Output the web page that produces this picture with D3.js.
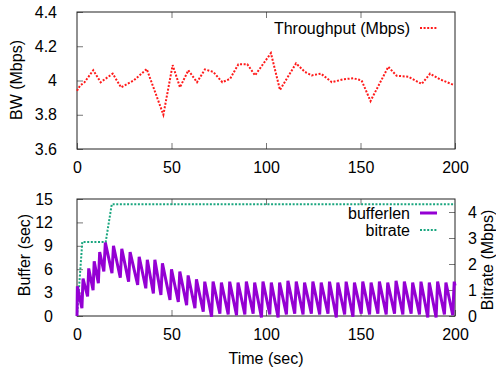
<!DOCTYPE html>
<html>
<head>
<meta charset="utf-8">
<script src="https://cdn.jsdelivr.net/npm/d3@7"></script>
<style>
  body { margin: 0; background: #fff; }
  svg text { font-family: "Liberation Sans", Arial, sans-serif; font-size: 16px; fill: #000; }
  .tick line { stroke: #777; }
  .domain { display: none; }
</style>
</head>
<body>
<svg id="chart" width="496" height="370"></svg>
<script>
// top panel: throughput samples [time (sec), Mbps]
var throughput = [[0,3.94],[1.6,3.97],[4,3.99],[8.6,4.06],[12.5,3.99],[18.9,4.04],[23.3,3.96],[30,4.0],
  [36.9,4.067],[45.7,3.80],[50.6,4.09],[54.5,3.96],[58.9,4.06],[63.5,3.99],[67.7,4.065],[72.1,4.05],
  [76.9,3.99],[81,4.01],[85.4,4.095],[90.1,4.095],[94.2,4.03],[102.6,4.16],[107.4,3.945],[115.9,4.10],
  [120.6,4.05],[124.2,4.03],[129.1,4.04],[134.8,3.99],[140.9,4.007],[146.2,4.013],[150.6,4.0],
  [155.3,3.88],[164.7,4.08],[169.1,4.028],[175.3,4.022],[182.4,3.98],[186.8,4.04],[192,4.007],[199.1,3.975]];

// bottom panel: buffer level [time, sec]
var bufferlen = [[0,0],[0.2,3.8],[2.6,1.0],[3.2,4.8],[5.6,2.5],[6.2,6.1],[8.5,3.3],[9.1,7.0],[11.3,4.2],
  [12.0,8.2],[14.2,5.7],[15.0,9.4],[18.5,5.5],[19.3,9.0],[22.9,4.9],[23.7,8.6],[27.3,4.4],[28.1,8.2],
  [32.1,4.0],[32.9,7.6],[36.4,3.55],[37.2,7.2],[40.4,2.9],[41.2,7.2],[44.4,2.7],[45.2,6.75],[49.2,2.05],
  [50.0,6.0],[53.6,1.8],[54.4,5.7],[58.0,1.4],[58.8,5.2],[62.4,1.0],[63.2,4.7],[66.8,0.55],[67.6,4.4],
  [71.2,-0.1],[72.0,4.4],[75.6,0.3],[76.4,4.3],[80.0,0.2],[80.8,4.4],[84.4,0.1],[85.2,4.3],[88.8,0.2],
  [89.6,4.4],[93.2,0.3],[94.0,4.3],[97.6,-0.2],[98.4,4.4],[102.0,0.2],[102.8,4.3],[106.4,-0.2],[107.2,4.3],
  [110.8,0.2],[111.6,4.5],[115.2,0.3],[116.0,4.4],[119.6,0.2],[120.4,4.3],[124.0,0.3],[124.8,4.4],
  [128.4,0.2],[129.2,4.3],[132.8,0.3],[133.6,4.4],[137.2,-0.2],[138.0,4.3],[141.6,0.2],[142.4,4.4],
  [146.0,-0.1],[146.8,4.3],[150.4,0.3],[151.2,4.4],[154.8,0.2],[155.6,4.3],[159.2,0.3],[160.0,4.4],
  [163.6,0.2],[164.4,4.3],[168.0,0.3],[168.8,4.5],[172.4,0.2],[173.2,4.4],[176.8,0.3],[177.6,4.3],
  [181.2,0.2],[182.0,4.4],[185.6,-0.2],[186.4,4.3],[190.0,-0.2],[190.8,4.4],[194.4,0.2],[195.2,4.3],
  [198.8,0.1],[199.6,4.4],[200,3.9]];

// bottom panel: selected bitrate [time, Mbps]
var bitrate = [[0,0],[2.8,2.85],[15.2,2.85],[18.4,4.3],[200,4.3]];

var xTicks = [0, 50, 100, 150, 200];
var bwTicks = [3.6, 3.8, 4.0, 4.2, 4.4];
var bufTicks = [0, 3, 6, 9, 12, 15];
var brTicks = [0, 1, 2, 3, 4];

var svg = d3.select("#chart");

// ---- top panel ----
var x1 = d3.scaleLinear().domain([0, 200]).range([77, 455]);
var y1 = d3.scaleLinear().domain([3.6, 4.4]).range([149, 12]);

svg.append("g").attr("transform", "translate(0,149)")
  .call(d3.axisBottom(x1).tickValues(xTicks).tickSizeInner(-6).tickSizeOuter(0).tickPadding(13));
svg.append("g").attr("transform", "translate(0,12)")
  .call(d3.axisTop(x1).tickValues(xTicks.slice(1, 4)).tickSizeInner(-6).tickSizeOuter(0).tickFormat(""));
svg.append("g").attr("transform", "translate(77,0)")
  .call(d3.axisLeft(y1).tickValues(bwTicks).tickSizeInner(-6).tickSizeOuter(0).tickPadding(20)
    .tickFormat(function(d) { return d === 4 ? "4" : d3.format(".1f")(d); }));

svg.append("rect").attr("x", 77).attr("y", 12).attr("width", 378).attr("height", 137)
  .attr("fill", "none").attr("stroke", "#222");

var line1 = d3.line().x(function(d) { return x1(d[0]); }).y(function(d) { return y1(d[1]); });
svg.append("path").datum(throughput).attr("d", line1)
  .attr("fill", "none").attr("stroke", "#ff1a1a").attr("stroke-width", 2).attr("stroke-dasharray", "2,1.6");

svg.append("text").attr("transform", "translate(22,80) rotate(-90)")
  .attr("text-anchor", "middle").text("BW (Mbps)");

svg.append("text").attr("x", 410).attr("y", 34).attr("text-anchor", "end").text("Throughput (Mbps)");
svg.append("line").attr("x1", 420).attr("x2", 437).attr("y1", 28).attr("y2", 28)
  .attr("stroke", "#ff1a1a").attr("stroke-width", 2).attr("stroke-dasharray", "2,1.6");

// ---- bottom panel ----
var x2 = d3.scaleLinear().domain([0, 200]).range([77, 455]);
var yb = d3.scaleLinear().domain([0, 15]).range([316, 199]);
var yr = d3.scaleLinear().domain([0, 4.5]).range([316, 199]);

svg.append("g").attr("transform", "translate(0,316)")
  .call(d3.axisBottom(x2).tickValues(xTicks).tickSizeInner(-6).tickSizeOuter(0).tickPadding(13));
svg.append("g").attr("transform", "translate(0,199)")
  .call(d3.axisTop(x2).tickValues(xTicks.slice(1, 4)).tickSizeInner(-6).tickSizeOuter(0).tickFormat(""));
svg.append("g").attr("transform", "translate(77,0)")
  .call(d3.axisLeft(yb).tickValues(bufTicks).tickSizeInner(-6).tickSizeOuter(0).tickPadding(24));
svg.append("g").attr("transform", "translate(455,0)")
  .call(d3.axisRight(yr).tickValues(brTicks).tickSizeInner(-6).tickSizeOuter(0).tickPadding(13)
    .tickFormat(d3.format("d")));

svg.append("rect").attr("x", 77).attr("y", 199).attr("width", 378).attr("height", 117)
  .attr("fill", "none").attr("stroke", "#222");

var lineB = d3.line().x(function(d) { return x2(d[0]); }).y(function(d) { return yb(d[1]); });
var lineR = d3.line().x(function(d) { return x2(d[0]); }).y(function(d) { return yr(d[1]); });

svg.append("path").datum(bitrate).attr("d", lineR)
  .attr("fill", "none").attr("stroke", "#1aa67f").attr("stroke-width", 2).attr("stroke-dasharray", "2,1.6");
svg.append("path").datum(bufferlen).attr("d", lineB)
  .attr("fill", "none").attr("stroke", "#9400d3").attr("stroke-width", 3).attr("stroke-linejoin", "miter");

svg.append("text").attr("transform", "translate(30,255) rotate(-90)")
  .attr("text-anchor", "middle").text("Buffer (sec)");
svg.append("text").attr("transform", "translate(493,260) rotate(-90)")
  .attr("text-anchor", "middle").text("Bitrate (Mbps)");
svg.append("text").attr("x", 266).attr("y", 364).attr("text-anchor", "middle").text("Time (sec)");

svg.append("text").attr("x", 410).attr("y", 219).attr("text-anchor", "end").text("bufferlen");
svg.append("line").attr("x1", 420).attr("x2", 437).attr("y1", 213).attr("y2", 213)
  .attr("stroke", "#9400d3").attr("stroke-width", 3);
svg.append("text").attr("x", 410).attr("y", 236).attr("text-anchor", "end").text("bitrate");
svg.append("line").attr("x1", 420).attr("x2", 437).attr("y1", 230).attr("y2", 230)
  .attr("stroke", "#1aa67f").attr("stroke-width", 2).attr("stroke-dasharray", "2,1.6");
</script>
</body>
</html>
